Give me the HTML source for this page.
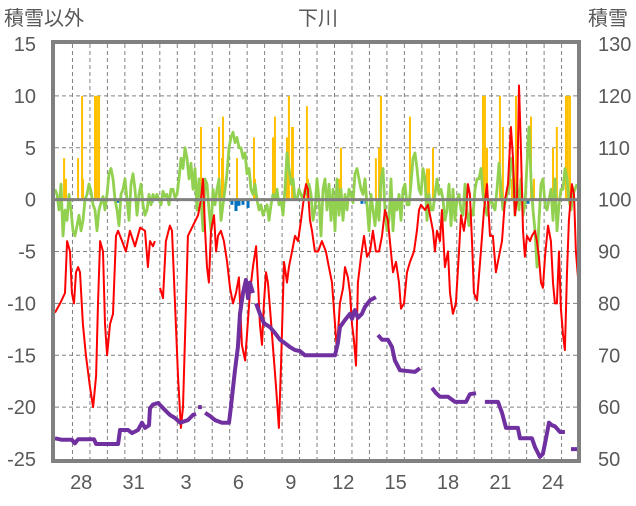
<!DOCTYPE html>
<html><head><meta charset="utf-8">
<style>
body{margin:0;background:#fff;width:636px;height:501px;overflow:hidden;font-family:"Liberation Sans","Noto Sans CJK JP",sans-serif;}
svg text{font-family:"Liberation Sans","Noto Sans CJK JP",sans-serif;fill:#595959;}
</style></head>
<body>
<svg id="chart" width="636" height="501" viewBox="0 0 636 501" xmlns="http://www.w3.org/2000/svg">
<text x="318" y="25" font-size="20" text-anchor="middle">下川</text>
<text x="4" y="25" font-size="20">積雪以外</text>
<text x="588" y="25" font-size="20">積雪</text>
<g id="grid"></g>
<g id="bars"></g>
<g id="lines"></g>
<g id="axes"></g>
</svg>
<script>
const dayLabels=["28","31","3","6","9","12","15","18","21","24"];
const dayLabelIdx=[1,4,7,10,13,16,19,22,25,28];
const leftTicks=[15,10,5,0,-5,-10,-15,-20,-25];
const rightTicks=[130,120,110,100,90,80,70,60,50];
const redT=[0,0.29,0.57,0.69,0.86,0.97,1.09,1.2,1.32,1.43,1.6,1.77,2,2.18,2.35,2.46,2.58,2.75,2.86,2.98,3.15,3.32,3.49,3.61,3.84,4.06,4.29,4.58,4.87,5.15,5.32,5.44,5.61,5.72,null,6.01,6.18,6.35,6.58,6.7,6.87,7.04,7.21,7.33,7.5,7.61,7.9,8.19,8.36,8.47,8.59,8.7,8.81,8.93,9.1,9.22,9.33,9.5,9.67,9.85,10.02,10.19,10.36,10.53,10.7,10.88,10.99,11.16,11.33,11.51,11.62,11.73,11.85,11.96,12.08,12.19,12.31,12.42,12.65,12.82,12.94,13.11,13.28,13.39,13.57,13.74,13.91,14.08,14.2,14.37,14.48,14.6,14.71,14.88,15.06,15.28,15.51,15.68,15.86,16.03,16.14,16.31,16.49,16.6,16.77,16.89,17,17.11,17.23,17.34,17.52,17.69,17.86,18.03,18.2,18.37,18.55,18.72,18.89,19.06,19.23,19.35,19.52,19.69,19.81,19.98,20.15,20.32,20.55,20.72,20.84,20.95,21.18,21.35,21.47,21.64,21.75,21.87,22.04,22.15,22.32,22.5,22.61,22.78,22.95,23.13,23.24,23.41,23.53,23.64,23.75,23.87,23.98,24.16,24.38,24.56,24.73,24.9,25.07,25.24,25.41,25.59,25.76,25.93,26.1,26.22,26.33,26.45,26.56,26.67,26.79,26.9,27.02,27.19,27.3,27.48,27.59,27.7,27.82,27.93,28.05,28.22,28.39,28.51,28.62,28.73,28.85,28.96,29.08,29.19,29.31,29.42,29.59,29.71,29.82,29.94];
const redV=[-10.9,-10,-9,-4,-5,-9,-10,-7,-6.5,-7,-12,-15,-18,-20,-17,-10,-4,-5,-12,-15,-12,-11,-3.5,-3,-4,-5,-3,-4.5,-2.7,-3,-6.5,-4,-4.5,-4,null,-8.5,-9.5,-4,-2.5,-3,-10,-17,-22,-20,-10,-3.5,-2.5,-1.5,0,2,-3,-6.5,-8,-3,-1.5,-5,-3.5,-3,-4,-6,-8.5,-10,-9,-7.5,-14,-15.5,-13,-9,-6.5,-4.5,-8,-12,-14,-10,-7,-8,-10.5,-13,-18,-22,-16,-6,-8,-6.5,-5,-3.5,-4,-2,-0.5,1.5,1,-2,-3,-5,-5,-4,-5,-6.5,-8,-12,-14.5,-10,-8.5,-6.5,-7.5,-9,-12,-13.5,-16,-8,-5.5,-3.5,-5.5,-5,-3,-5,-5,-3.5,-1,-2,-5,-7,-6,-8,-10.5,-10,-7,-6,-5,-3,-1,-0.5,-1,-0.5,-1.5,-3,-5,-3,-4,-1,-6.5,-5,-9,-11,-10,-5,-1.5,-3,-1.5,1.5,0.5,-4,-9,-9.7,-5,-1,1.5,-3.5,-3.5,-7,-5.5,-4,0,1.5,7,4,-1.5,0,11,5,-3,-5.5,-3.5,-4,-3.5,-3,-4,-5.5,-8,-8.5,-5.5,-2.5,-4,-8,-10,-10,-5,-10.5,-13,-14.5,-7,-2,1.5,0.5,-5,-7.5];
const greenStep=0.1145;
const greenV=[1,0.5,-1,1.5,-3.5,-1,-2,0.5,-1,-3,-3.5,-2.5,-1.5,-3,-2,0,0.5,1.5,0.8,-0.5,-1,-3,-1,-0.3,0.3,-1,0.5,2.5,3,2,0,-1,-2.5,0.5,1,2,0,-2,1.5,2.5,1,-1.5,0.5,1.5,-0.5,-1.5,-1,0.5,-0.5,0.5,0,0.5,0,-0.5,0.8,0.3,0.5,-0.5,1,1,0.2,0.5,2,4,3,5,4,2,3.5,1,3,-1,2,0,-3,2,1.5,-1,-3,1,-0.5,1,2,-2,-0.5,1,2.5,5,6,6.5,5.5,6,5,5,4,4.5,2.5,3,1,0.5,1.5,0,-1,-0.5,-1.5,-1,-0.5,-2,-0.5,0.5,0,1,-0.5,0,-1.5,1,4.5,3,1.5,2,0,0,1,0.5,0,1,0.5,1.5,0.5,-2,-1,2,0,-3.5,1,2,-1,1.5,-2,1,-3,2,-1.5,1,-2,0.5,-1,1,0.5,-0.3,2.5,3,2,1,0.5,2,-0.5,-3,0.5,-1,-2.5,0,-2,2,3,-1,-3,-2,2,-3,0,-1,0.5,-2,1,1.5,-0.5,-0.5,1.5,4,4.5,3,1,0.5,3,2,-2,0.5,-1,-1,0.5,2,0.5,1,0,-2,-1,1.5,-2.5,1,-2,0,0.5,-1,-1.5,1.5,-1,-2.5,-1,-1.5,1,2,2,3,0.5,-0.5,-1.5,-0.5,0,-0.5,-1,1,3.5,1,-1,-0.3,0.5,1,4,3,-1.5,1.5,-1,2,-1.5,-0.5,3.5,7,2,-1,-3,-6.5,-2,1.5,2,-0.5,-1,0,1,-2,2,-3,-0.5,1,1,3,2,0,-1,0.5,1,1.5];
const purpleT=[0,0.4,0.97,1.14,1.32,2.23,2.35,3.61,3.72,4.18,4.41,4.75,4.98,5.15,5.38,5.44,5.61,5.9,6.3,6.58,6.87,7.16,7.61,7.9,8.07,null,8.19,8.41,null,8.59,8.87,9.16,9.56,9.96,10.07,10.3,10.47,10.59,10.76,10.93,11.05,11.16,11.33,null,11.51,11.73,11.96,12.31,12.59,12.88,13.17,13.45,13.74,14.02,14.31,16.03,16.2,16.31,16.6,16.89,17,17.17,17.34,17.57,17.74,18.03,18.37,null,18.49,18.72,19.06,19.29,19.46,19.75,20.61,20.89,null,21.58,21.81,22.04,22.5,22.9,23.53,23.75,24.1,null,24.61,25.36,25.59,25.82,26.5,26.62,27.3,27.48,27.76,27.93,28.11,28.28,28.45,28.62,28.91,29.19,null,29.54,29.94];
const purpleV=[54,53.7,53.7,53,53.8,53.8,52.9,52.9,55.6,55.6,55,55.6,57,56,56.5,59.8,60.5,60.8,59.4,58.5,57.9,57,57.5,58.5,58.7,null,60,60,null,58.9,58.3,57.5,57,57,60,67,71.6,78,82,84.5,81,84,82,null,80,78,76.2,75.4,74.3,73,72.3,71.6,71,70.8,70,70,72.5,75.4,76.8,78,77,78.7,77.2,78,79.3,80.6,81.2,null,73.9,73,73,71.6,69,67.1,66.8,67.5,null,63.7,62.7,62,62,61,61,62.5,62.7,null,61,61,58.9,56,56,54,54,52.3,50.4,51,54,57,56.5,56.3,55.2,55.2,null,51.9,51.9];
const yellowT=[0.52,0.63,1.32,1.55,1.6,2.29,2.4,2.52,8.36,9.39,9.56,9.62,10.42,11.39,11.45,12.48,12.59,13.28,13.39,13.57,13.62,14.42,14.48,16.26,16.37,18.37,18.55,18.66,20.32,21.29,21.41,21.64,24.5,24.61,24.73,25.47,25.64,26.16,26.39,27.25,27.42,28.51,28.73,29.25,29.36,29.48];
const yellowV=[4,2,4,10,2,10,10,10,7,7,4,8,4,6,2,6,8,6,10,7,7,9,2,2,5,4,5,10,8,3,3,5,10,10,5,10,7,2,10,8,2,5,7,10,10,10];
const blueT=[3.61,5.55,8.36,10.13,10.36,10.53,10.76,11.05,15.74,16.6,17.57,17.8,19.46,27.08,28.05];
const blueV=[-0.3,-0.3,-0.5,-0.5,-1.1,-0.6,-0.5,-0.8,-0.3,-0.3,-0.4,-0.4,-0.3,-0.4,-0.4];

const X0=55,X1=578,DAYS=29.94,YT=44,YB=459;
const xs=t=>X0+t*(X1-X0)/DAYS;
const yL=v=>YT+(15-v)*(YB-YT)/40;
const yR=v=>YT+(130-v)*(YB-YT)/80;
const NS="http://www.w3.org/2000/svg";
function mk(tag,parent,attrs){const e=document.createElementNS(NS,tag);for(const k in attrs)e.setAttribute(k,attrs[k]);parent.appendChild(e);return e;}
const grid=document.getElementById('grid'),bars=document.getElementById('bars'),lines=document.getElementById('lines'),axes=document.getElementById('axes');
leftTicks.forEach((v,i)=>{
  if(v!==0&&v!==15&&v!==-25){const l=mk('line',grid,{x1:X0,x2:X1,y1:yL(v),y2:yL(v),stroke:'#808080','stroke-width':1,'stroke-dasharray':'4,3'});
  
  }
  const t=mk('text',axes,{x:36,y:yL(v)+7,'font-size':20,'text-anchor':'end'});t.textContent=v;
  
  
  const r=mk('text',axes,{x:598,y:yR(rightTicks[i])+7,'font-size':20});r.textContent=rightTicks[i];
  
  
});
for(let d=1;d<30;d++){const l=mk('line',grid,{x1:xs(d),x2:xs(d),y1:YT,y2:YB,stroke:'#808080','stroke-width':1,'stroke-dasharray':'4,3'});
  
  }
dayLabels.forEach((s,i)=>{const t=mk('text',axes,{x:xs(dayLabelIdx[i]+0.5),y:489,'font-size':20,'text-anchor':'middle'});t.textContent=s;
  
  });
yellowT.forEach((t,i)=>{const y=yL(yellowV[i]),y0=yL(0);const r=mk('rect',bars,{x:xs(t)-1,y:y,width:2,height:y0-y,fill:'#FFC000'});
  
  });
blueT.forEach((t,i)=>{const y0=yL(0),y=yL(blueV[i]);const r=mk('rect',bars,{x:xs(t)-1.5,y:y0,width:3,height:y-y0,fill:'#0070C0'});
  
  });
const zl=mk('line',axes,{x1:X0,x2:X1,y1:yL(0),y2:yL(0),stroke:'#808080','stroke-width':3});


function pathOf(T,V,yf){let d='',pen=false;T.forEach((t,i)=>{if(t===null||V[i]===null){pen=false;return;}d+=(pen?'L':'M')+xs(t).toFixed(1)+','+yf(V[i]).toFixed(1);pen=true;});return d;}
const gT=greenV.map((v,i)=>i*greenStep);
const g=mk('path',lines,{d:pathOf(gT,greenV,yL),fill:'none',stroke:'#92D050','stroke-width':2.8,'stroke-linejoin':'round'});


const rd=mk('path',lines,{d:pathOf(redT,redV,yL),fill:'none',stroke:'#FF0000','stroke-width':2,'stroke-linejoin':'round'});


const pu=mk('path',lines,{d:pathOf(purpleT,purpleV,yR),fill:'none',stroke:'#7030A0','stroke-width':4,'stroke-linejoin':'round'});


const fr=mk('rect',axes,{x:53,y:42,width:526,height:419,fill:'none',stroke:'#808080','stroke-width':4});


</script>
</body></html>
